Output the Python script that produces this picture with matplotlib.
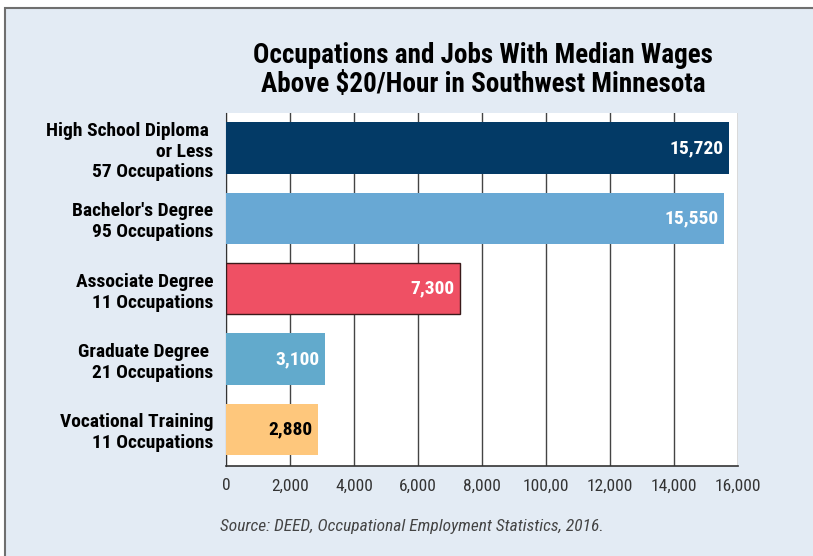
import matplotlib
matplotlib.use('Agg')
import matplotlib.pyplot as plt
from matplotlib import font_manager
from matplotlib.patches import Rectangle

categories = ['High School Diploma \nor Less\n57 Occupations',
              "Bachelor's Degree\n95 Occupations",
              'Associate Degree\n11 Occupations',
              'Graduate Degree \n21 Occupations',
              'Vocational Training\n11 Occupations']
jobs = [15720, 15550, 7300, 3100, 2880]
value_labels = ['15,720', '15,550', '7,300', '3,100', '2,880']
bar_colors = ['#033a66', '#68a8d4', '#ef5064', '#62aacc', '#fec77c']
label_colors = ['white', 'white', 'white', 'white', 'black']
xticks = [0, 2000, 4000, 6000, 8000, 10000, 12000, 14000, 16000]
xtick_labels = ['0', '2,000', '4,000', '6,000', '8,000', '100,00',
                '12,000', '14,000', '16,000']

# pick a narrow font if one is installed
names = set(f.name for f in font_manager.fontManager.ttflist)
family = 'DejaVu Sans'
for cand in ['Roboto Condensed', 'Liberation Sans Narrow', 'DejaVu Sans Condensed']:
    if cand in names:
        family = cand
        break
plt.rcParams['font.family'] = family

fig = plt.figure(figsize=(8.13, 5.56), dpi=100)
fig.patch.set_facecolor('white')
panel = Rectangle((5 / 813, -0.05), 1, 1.05 - 8 / 556, transform=fig.transFigure,
                  facecolor='#e3ebf4', edgecolor='#6f6f6f', lw=1.5, zorder=-10)
fig.patches.append(panel)

ax = fig.add_axes([226 / 813, 1 - 466 / 556, 512 / 813, 353 / 556])
ax.set_facecolor('white')
y = list(range(len(jobs)))
ax.barh(y, jobs, height=0.73, color=bar_colors, zorder=3)
# associate bar has a dark outline
ax.barh(y[2], jobs[2], height=0.73, color='none', edgecolor='#3a1a1a', lw=1, zorder=4)

for i in y:
    ax.text(jobs[i] - 170, i, value_labels[i], ha='right', va='center',
            color=label_colors[i], fontsize=14, fontweight='bold', zorder=5)

ax.set_xlim(0, 16000)
ax.set_ylim(4.52, -0.5)
ax.set_xticks(xticks)
ax.set_xticklabels(xtick_labels, fontsize=12.5, color='#333333')
ax.set_yticks(y)
ax.set_yticklabels(categories, fontsize=14, fontweight='bold', ha='right',
                   linespacing=1.2)
ax.tick_params(axis='y', length=0, pad=9)
ax.tick_params(axis='x', length=0, pad=9)
ax.grid(axis='x', color='#444444', lw=1, zorder=1)
for s in ['top', 'right']:
    ax.spines[s].set_visible(False)
ax.spines['left'].set_color('#333333')
ax.spines['bottom'].set_color('#333333')
ax.spines['bottom'].set_linewidth(1.2)

fig.text(483 / 813, 1 - 70 / 556,
         'Occupations and Jobs With Median Wages\nAbove $20/Hour in Southwest Minnesota',
         ha='center', va='center', fontsize=19.5, fontweight='bold', linespacing=1.1)
fig.text(220 / 813, 1 - 527 / 556,
         'Source: DEED, Occupational Employment Statistics, 2016.',
         ha='left', va='center', fontsize=12.5, style='italic', color='#444444')

fig.savefig('out.png', dpi=100, facecolor=fig.get_facecolor())
